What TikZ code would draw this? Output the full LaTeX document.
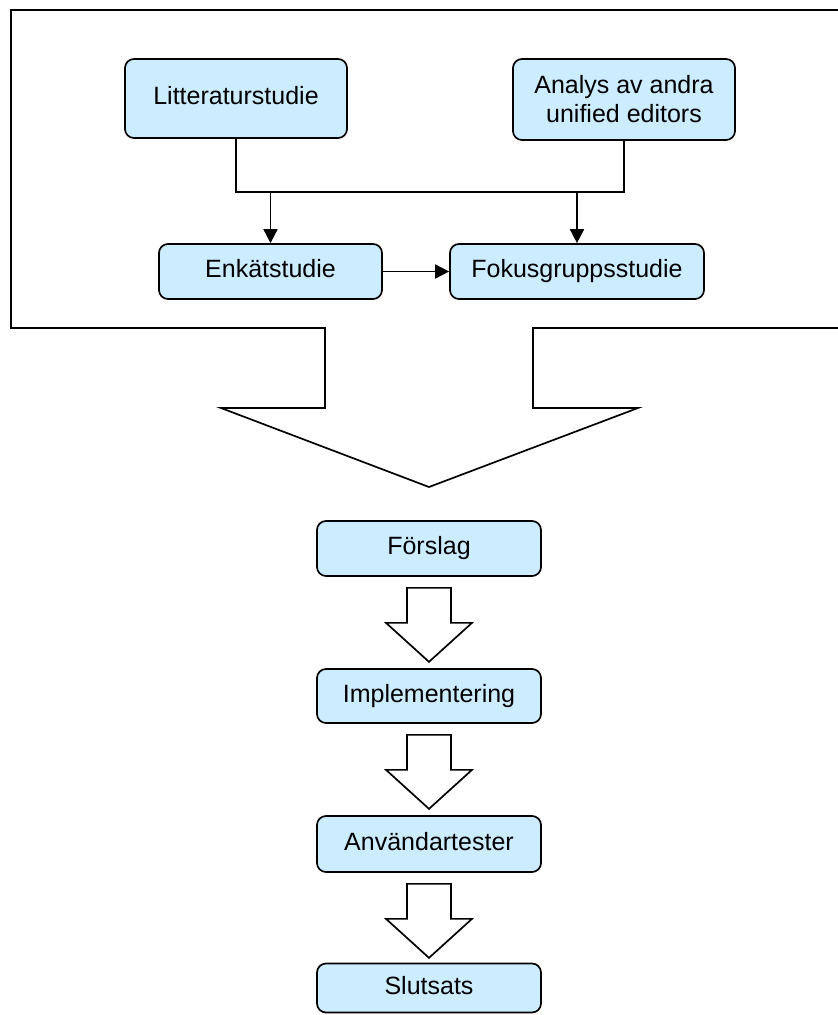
\documentclass[tikz,border=0pt]{standalone}
\usepackage{fontspec}
\setmainfont{Liberation Sans}
\usetikzlibrary{calc,arrows.meta}
\definecolor{boxblue}{RGB}{204,236,255}
\tikzset{
  flowbox/.style={draw=black, line width=1.7pt, fill=boxblue, rounded corners=9pt,
    inner sep=0pt, align=center, font=\fontsize{25}{29}\selectfont},
  oneline/.style={text height=18pt, text depth=5.3pt},
  conn/.style={draw=black, line width=1.7pt},
  arr/.style={conn, -{Triangle[length=14pt,width=14pt]}},
  hollow/.style={draw=black, line width=1.7pt, fill=white, line join=miter},
}
\newcommand{\hollowdown}[1]{%
  \draw[hollow] ($(#1.south)+(-22,11)$) -- ++(44,0) -- ++(0,35) -- ++(21,0)
    -- ($(#1.south)+(0,85)$) -- ($(#1.south)+(-43,46)$) -- ++(21,0) -- cycle;}
\begin{document}
\begin{tikzpicture}[x=1pt,y=-1pt]
\useasboundingbox (0,0) rectangle (838,1015);
\clip (0,0) rectangle (838,1015);
% outer frame with big arrow
\draw[hollow] (11,10) -- (850,10) -- (850,328) -- (533,328) -- (533,408) -- (638,408)
  -- (429,487) -- (221,408) -- (325,408) -- (325,328) -- (11,328) -- cycle;
% top boxes
\node[flowbox, oneline, minimum width=222pt, minimum height=79pt] (lit) at (236,98.5) {Litteraturstudie};
\node[flowbox, minimum width=222pt, minimum height=81pt] (ana) at (624,99.5) {Analys av andra\\unified editors};
\node[flowbox, oneline, minimum width=223pt, minimum height=55pt] (enk) at (270.5,271.5) {Enkätstudie};
\node[flowbox, oneline, minimum width=254pt, minimum height=55pt] (fok) at (577,271.5) {Fokusgruppsstudie};
\coordinate (j1) at (236,192);
\coordinate (j2) at (624,192);
\draw[conn] (lit.south) -- (j1) -- (j2) -- (ana.south);
\draw[arr] (enk.north |- j1) -- (enk.north);
\draw[arr] (fok.north |- j1) -- (fok.north);
\draw[arr] (enk.east) -- (fok.west);
% lower boxes
\node[flowbox, oneline, minimum width=224pt, minimum height=55pt] (for) at (429,548.5) {Förslag};
\node[flowbox, oneline, minimum width=224pt, minimum height=54pt] (imp) at (429,696) {Implementering};
\node[flowbox, oneline, minimum width=224pt, minimum height=56pt] (anv) at (429,844) {Användartester};
\node[flowbox, oneline, minimum width=224pt, minimum height=49pt] (slu) at (429,988) {Slutsats};
\hollowdown{for}
\hollowdown{imp}
\hollowdown{anv}
\end{tikzpicture}
\end{document}
